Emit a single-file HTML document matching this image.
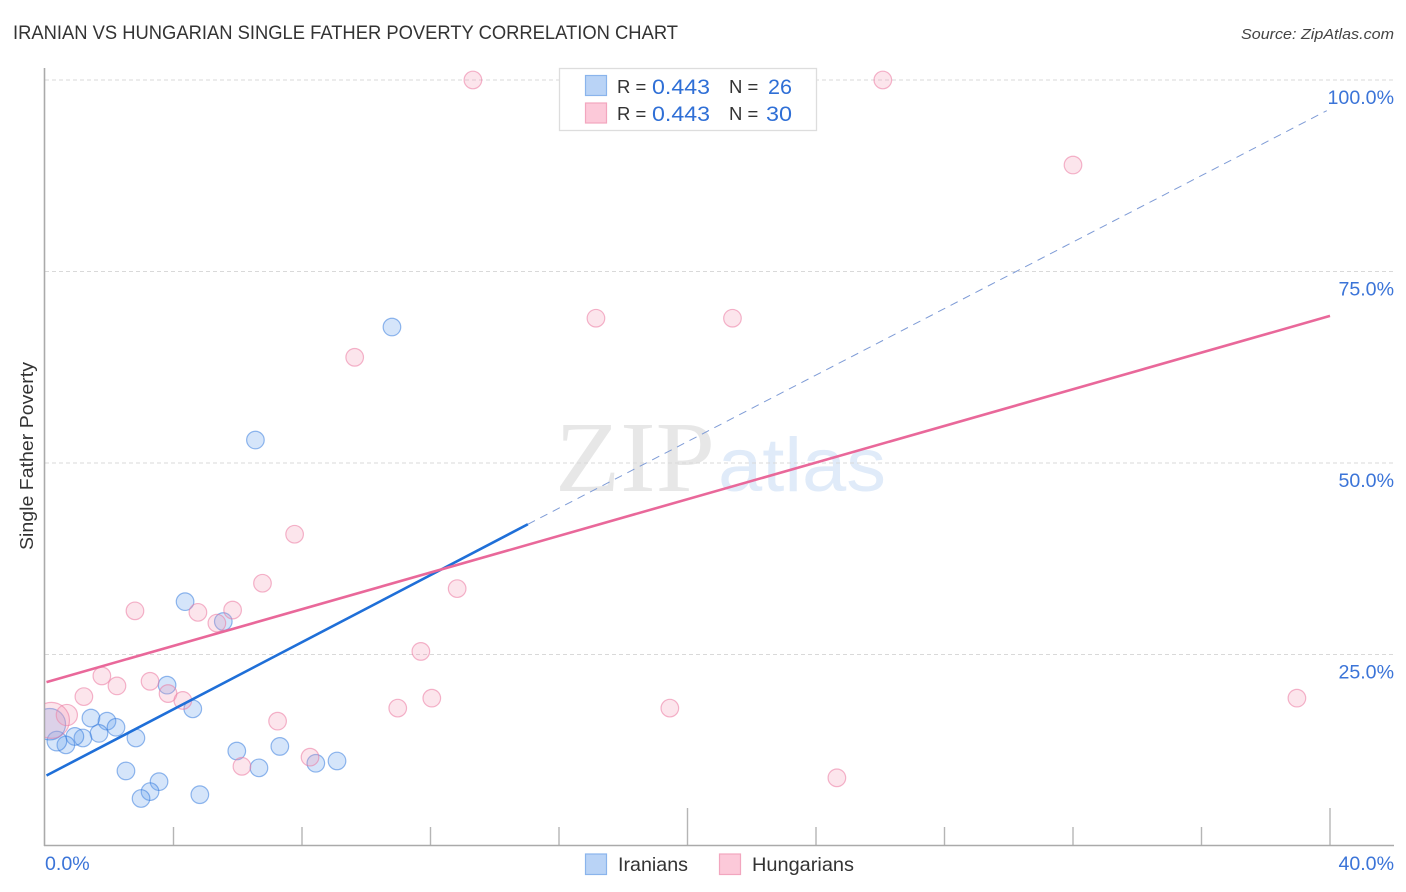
<!DOCTYPE html>
<html lang="en">
<head>
<meta charset="utf-8">
<title>Iranian vs Hungarian Single Father Poverty Correlation Chart</title>
<style>
html,body{margin:0;padding:0;background:#fff;}
svg{display:block;font-family:"Liberation Sans",sans-serif;}
</style>
</head>
<body>
<svg id="chart" xmlns="http://www.w3.org/2000/svg" width="1406" height="892" viewBox="0 0 1406 892">
  <defs>
    <clipPath id="plot-clip"><rect x="45" y="60" width="1350" height="786"/></clipPath>
  </defs>
  <text x="13" y="39" font-size="19" fill="#333" textLength="665" lengthAdjust="spacingAndGlyphs">IRANIAN VS HUNGARIAN SINGLE FATHER POVERTY CORRELATION CHART</text>
  <text x="1394" y="39" font-size="15" font-style="italic" fill="#444" text-anchor="end" textLength="153" lengthAdjust="spacingAndGlyphs">Source: ZipAtlas.com</text>

  <g>
    <text x="555" y="491" font-family="'Liberation Serif',serif" font-size="101" fill="#e7e7e7" textLength="160" lengthAdjust="spacingAndGlyphs">ZIP</text>
    <text x="718" y="491" font-size="76" fill="#e0ebf9" textLength="168" lengthAdjust="spacingAndGlyphs">atlas</text>
  </g>

  <g id="grid"></g>
  <g id="ticks"></g>
  <line x1="44.5" y1="68" x2="44.5" y2="846" stroke="#aaa" stroke-width="1.6"/>
  <line x1="44" y1="845.5" x2="1394" y2="845.5" stroke="#aaa" stroke-width="1.6"/>

  <g id="points-iranians" clip-path="url(#plot-clip)"></g>
  <g id="points-hungarians" clip-path="url(#plot-clip)"></g>
  <g id="trends"></g>
  <g id="y-labels"></g>
  <g id="x-labels"></g>

  <text transform="translate(33,456) rotate(-90)" font-size="18.5" fill="#333" text-anchor="middle" textLength="188" lengthAdjust="spacingAndGlyphs">Single Father Poverty</text>

  <g>
    <rect x="559.5" y="68.5" width="257" height="62" fill="#fff" stroke="#ddd" stroke-width="1.3"/>
    <rect x="585.5" y="75.5" width="21" height="20" fill="#b9d3f6" stroke="#8ab4ec" stroke-width="1.2"/>
    <rect x="585.5" y="103" width="21" height="20" fill="#fcc9d9" stroke="#f2a6bf" stroke-width="1.2"/>
    <text x="617" y="93" font-size="18.5" fill="#333">R =</text>
    <text x="652" y="94" font-size="21" fill="#2f6fd6" textLength="58" lengthAdjust="spacingAndGlyphs">0.443</text>
    <text x="729" y="93" font-size="18.5" fill="#333">N =</text>
    <text x="768" y="94" font-size="21" fill="#2f6fd6" textLength="24" lengthAdjust="spacingAndGlyphs">26</text>
    <text x="617" y="120" font-size="18.5" fill="#333">R =</text>
    <text x="652" y="121" font-size="21" fill="#2f6fd6" textLength="58" lengthAdjust="spacingAndGlyphs">0.443</text>
    <text x="729" y="120" font-size="18.5" fill="#333">N =</text>
    <text x="766" y="121" font-size="21" fill="#2f6fd6" textLength="26" lengthAdjust="spacingAndGlyphs">30</text>
  </g>

  <g>
    <rect x="585.5" y="854" width="21" height="20.5" fill="#b9d3f6" stroke="#8ab4ec" stroke-width="1.2"/>
    <text x="618" y="871" font-size="19.5" fill="#333" textLength="70" lengthAdjust="spacingAndGlyphs">Iranians</text>
    <rect x="719.5" y="854" width="21" height="20.5" fill="#fcc9d9" stroke="#f2a6bf" stroke-width="1.2"/>
    <text x="752" y="871" font-size="19.5" fill="#333" textLength="102" lengthAdjust="spacingAndGlyphs">Hungarians</text>
  </g>
</svg>

<script>
// x: single parent share (%), y: single father poverty (%), weight: relative sample size
const iraniansX = [10.8, 6.55, 4.36, 5.55, 3.8, 4.6, 1.43, 1.93, 2.21, 2.83, 1.68, 1.18, 0.93, 0.65, 0.37, 0.15, 5.97, 7.31, 6.66, 8.43, 9.09, 2.52, 3.55, 3.27, 2.99, 4.82];
const iraniansY = [67.75, 53.0, 31.9, 29.3, 21.0, 17.9, 16.7, 16.3, 15.5, 14.1, 14.7, 14.1, 14.3, 13.2, 13.7, 15.9, 12.4, 13.0, 10.2, 10.8, 11.1, 9.8, 8.4, 7.1, 6.2, 6.7];
const iraniansWeight = [1, 1, 1, 1, 1, 1, 1, 1, 1, 1, 1, 1, 1, 1, 1.25, 3.2, 1, 1, 1, 1, 1, 1, 1, 1, 1, 1];

const hungariansX = [13.32, 26.08, 32.0, 17.15, 21.4, 9.64, 7.77, 6.77, 12.83, 2.8, 4.76, 5.84, 5.35, 11.7, 1.77, 2.24, 3.27, 1.21, 3.83, 4.29, 12.04, 10.98, 19.45, 38.97, 7.24, 8.25, 6.13, 24.65, 0.68, 0.2];
const hungariansY = [100, 100, 88.9, 68.9, 68.9, 63.8, 40.7, 34.3, 33.6, 30.7, 30.5, 30.8, 29.1, 25.4, 22.2, 20.9, 21.5, 19.5, 19.9, 19.0, 19.3, 18.0, 18.0, 19.3, 16.3, 11.6, 10.4, 8.9, 17.1, 16.4];
const hungariansWeight = [1, 1, 1, 1, 1, 1, 1, 1, 1, 1, 1, 1, 1, 1, 1, 1, 1, 1, 1, 1, 1, 1, 1, 1, 1, 1, 1, 1, 1.45, 4.2];

// regression lines: [x, y] end values
const iraniansTrendX = [0, 15.03, 39.9];
const iraniansTrendY = [9.2, 42.0, 96.0];
const hungariansTrendX = [0, 40];
const hungariansTrendY = [21.4, 69.2];

const yTickValues = [100, 75, 50, 25];
const yTickLabels = ["100.0%", "75.0%", "50.0%", "25.0%"];
const xTickValues = [4, 8, 12, 16, 20, 24, 28, 32, 36, 40];
const xMajorTicks = [20, 40];
const xEndValues = [0, 40];
const xEndLabels = ["0.0%", "40.0%"];

const NS = "http://www.w3.org/2000/svg";
function xPos(v) { return 45 + v * (1330 - 45) / 40; }
function yPos(v) { return 846 - v * 7.66; }
function make(tag, parent, attrs) {
  const el = document.createElementNS(NS, tag);
  Object.keys(attrs).forEach(function (k) { el.setAttribute(k, attrs[k]); });
  parent.appendChild(el);
  return el;
}

const grid = document.getElementById("grid");
yTickValues.forEach(function (v) {
  const el = make("line", grid, { x1: 45, x2: 1394, y1: yPos(v), y2: yPos(v), stroke: "#d9d9d9", "stroke-width": 1, "stroke-dasharray": "4 3" });
  
  
});

const ticks = document.getElementById("ticks");
xTickValues.forEach(function (v) {
  const top = xMajorTicks.indexOf(v) >= 0 ? 808 : 827;
  const el = make("line", ticks, { x1: xPos(v), x2: xPos(v), y1: top, y2: 846, stroke: "#b5b5b5", "stroke-width": 1.4 });
  
  
});

const yLabels = document.getElementById("y-labels");
yTickValues.forEach(function (v, i) {
  const el = make("text", yLabels, { x: 1394, y: yPos(v) + 24, "font-size": 19.6, fill: "#3b74d8", "text-anchor": "end" });
  el.textContent = yTickLabels[i];
  
  
});

const xLabels = document.getElementById("x-labels");
xEndValues.forEach(function (v, i) {
  const first = i === 0;
  const el = make("text", xLabels, { x: first ? xPos(v) : 1394, y: 870, "font-size": 19.6, fill: "#3b74d8", "text-anchor": first ? "start" : "end" });
  el.textContent = xEndLabels[i];
  
  
});

function drawPoints(groupId, xs, ys, weights, fill, stroke) {
  const g = document.getElementById(groupId);
  xs.forEach(function (x, i) {
    const el = make("circle", g, { cx: xPos(x), cy: yPos(ys[i]), r: 8.8 * Math.sqrt(weights[i]), fill: fill, stroke: stroke, "stroke-width": 1.2 });
    
    
  });
}
drawPoints("points-hungarians", hungariansX, hungariansY, hungariansWeight, "rgba(245,150,180,0.25)", "rgba(235,120,160,0.55)");
drawPoints("points-iranians", iraniansX, iraniansY, iraniansWeight, "rgba(100,160,235,0.27)", "rgba(50,120,220,0.52)");

const trends = document.getElementById("trends");
const iraniansDash = make("line", trends, { x1: xPos(iraniansTrendX[1]), y1: yPos(iraniansTrendY[1]), x2: xPos(iraniansTrendX[2]), y2: yPos(iraniansTrendY[2]), stroke: "#7e9bd6", "stroke-width": 1, "stroke-dasharray": "8 6" });


const iraniansLine = make("line", trends, { x1: xPos(iraniansTrendX[0]) + 1.5, y1: yPos(iraniansTrendY[0]), x2: xPos(iraniansTrendX[1]), y2: yPos(iraniansTrendY[1]), stroke: "#1f6fd8", "stroke-width": 2.6 });


const hungariansLine = make("line", trends, { x1: xPos(hungariansTrendX[0]) + 1.5, y1: yPos(hungariansTrendY[0]), x2: xPos(hungariansTrendX[1]), y2: yPos(hungariansTrendY[1]), stroke: "#e9689a", "stroke-width": 2.6 });


</script>
</body>
</html>
